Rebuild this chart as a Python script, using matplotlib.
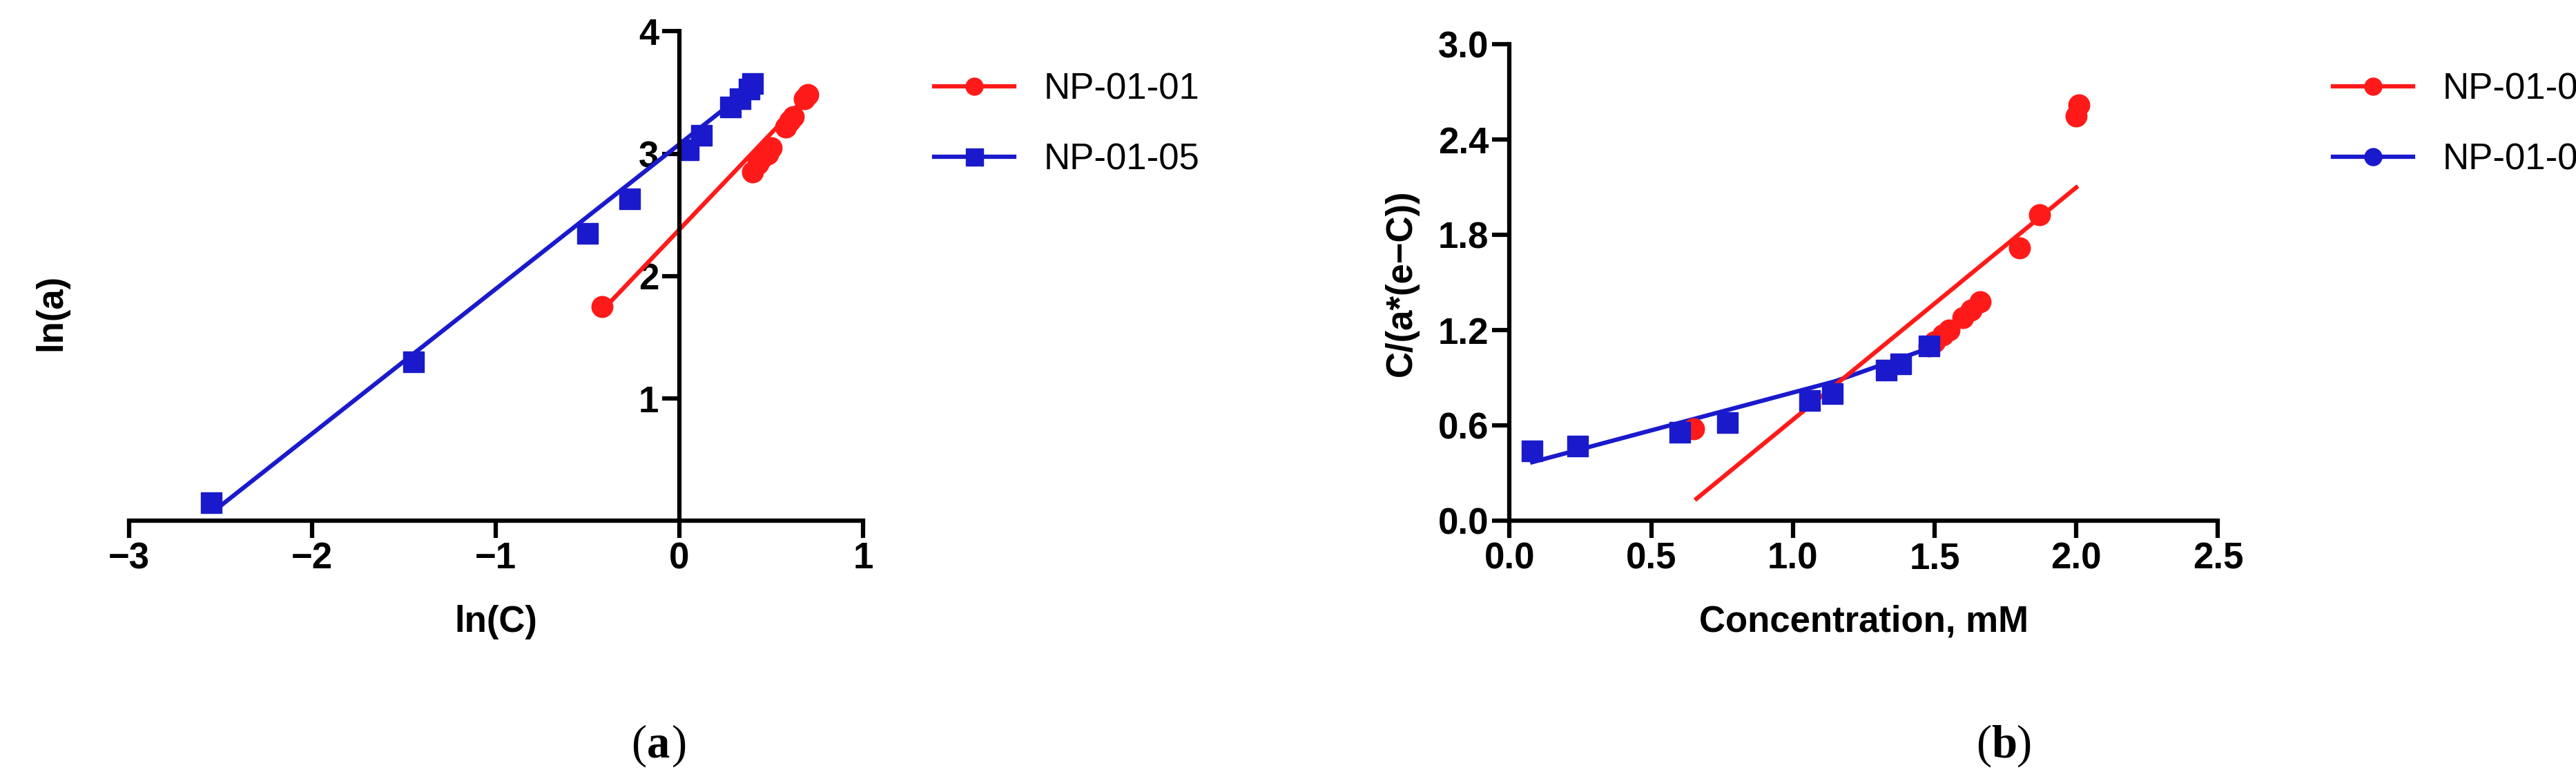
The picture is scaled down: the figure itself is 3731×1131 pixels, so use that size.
import numpy as np
import matplotlib; matplotlib.use("Agg")
import matplotlib.pyplot as plt

RED, BLUE = "#ff1a1a", "#1a1acc"
plt.rcParams["font.family"] = ["Liberation Sans", "DejaVu Sans"]

# panel (a): ln(a) vs ln(C)
a_red_x = [-0.42, 0.40, 0.43, 0.45, 0.48, 0.50, 0.58, 0.60, 0.62, 0.68, 0.70]
a_red_y = [1.75, 2.85, 2.92, 2.97, 3.00, 3.05, 3.22, 3.27, 3.30, 3.45, 3.48]
a_blue_x = [-2.55, -1.45, -0.50, -0.27, 0.05, 0.12, 0.28, 0.33, 0.38, 0.40]
a_blue_y = [0.15, 1.30, 2.35, 2.63, 3.03, 3.15, 3.38, 3.45, 3.53, 3.57]
a_red_fit_x, a_red_fit_y = [-0.42, 0.68], [1.72, 3.45]
a_blue_fit_x, a_blue_fit_y = [-2.52, 0.40], [0.10, 3.55]

# panel (b): C/(a*(e-C)) vs concentration
b_red_x = [0.65, 1.48, 1.50, 1.53, 1.55, 1.60, 1.63, 1.66, 1.80, 1.87, 2.00, 2.01]
b_red_y = [0.58, 1.10, 1.13, 1.17, 1.20, 1.28, 1.33, 1.38, 1.72, 1.93, 2.55, 2.62]
b_blue_x = [0.08, 0.24, 0.60, 0.77, 1.06, 1.14, 1.33, 1.38, 1.48]
b_blue_y = [0.44, 0.47, 0.56, 0.62, 0.76, 0.80, 0.95, 0.99, 1.10]
b_red_fit_x, b_red_fit_y = [0.66, 2.00], [0.14, 2.10]
b_blue_fit_x, b_blue_fit_y = [0.08, 1.15, 1.50], [0.37, 0.88, 1.10]

fig = plt.figure(figsize=(37.31, 11.31), dpi=100)
FS = 38
TK = dict(fontsize=FS, fontweight="bold")


def style(ax):
    ax.tick_params(width=4.5, length=18, labelsize=FS, direction="out")
    for s in ax.spines.values():
        s.set_linewidth(4.5)
    for t in ax.get_xticklabels() + ax.get_yticklabels():
        t.set_fontweight("bold")


def caption(x, letter):
    kw = dict(fontsize=48, family="Liberation Serif", va="center")
    fig.text(x, 0.045, "(", ha="right", **kw)
    fig.text(x, 0.045, letter, weight="bold", ha="left", **kw)
    fig.text(x + 0.0098, 0.045, ")", ha="left", **kw)


# ---- (a)
ax = fig.add_axes([0.050, 0.333, 0.285, 0.627])
ax.plot(a_blue_fit_x, a_blue_fit_y, color=BLUE, lw=4.5)
ax.plot(a_red_fit_x, a_red_fit_y, color=RED, lw=4.5)
ax.plot(a_red_x, a_red_y, "o", color=RED, ms=22)
ax.plot(a_blue_x, a_blue_y, "s", color=BLUE, ms=22)
ax.set_xlim(-3, 1); ax.set_ylim(0, 4)
ax.spines["left"].set_position(("data", 0))
ax.spines["bottom"].set_position(("data", 0))
ax.spines[["top", "right"]].set_visible(False)
ax.set_xticks([-3, -2, -1, 0, 1]); ax.set_yticks([1, 2, 3, 4])
ax.set_xticklabels(["\u22123", "\u22122", "\u22121", "0", "1"])
style(ax)
ax.set_xlabel("ln(C)", labelpad=30, **TK)
fig.text(0.02, 0.6, "ln(a)", rotation=90, ha="center", va="center", **TK)
lh = [plt.Line2D([], [], color=RED, lw=4.5, marker="o", ms=18),
      plt.Line2D([], [], color=BLUE, lw=4.5, marker="s", ms=18)]
fig.legend(lh, ["NP-01-01", "NP-01-05"], loc="upper left", bbox_to_anchor=(0.35, 0.95),
           frameon=False, fontsize=FS, handlelength=2.2, labelspacing=1.0)
caption(0.251, "a")

# ---- (b)
bx = fig.add_axes([0.586, 0.333, 0.275, 0.61])
bx.plot(b_blue_fit_x, b_blue_fit_y, color=BLUE, lw=4.5)
bx.plot(b_red_fit_x, b_red_fit_y, color=RED, lw=4.5)
bx.plot(b_red_x, b_red_y, "o", color=RED, ms=22)
bx.plot(b_blue_x, b_blue_y, "s", color=BLUE, ms=22)
bx.set_xlim(0, 2.5); bx.set_ylim(0, 3.0)
bx.set_xticks(np.arange(0, 2.51, 0.5)); bx.set_yticks(np.arange(0, 3.01, 0.6))
bx.xaxis.set_major_formatter(matplotlib.ticker.FormatStrFormatter("%.1f"))
bx.yaxis.set_major_formatter(matplotlib.ticker.FormatStrFormatter("%.1f"))
bx.spines[["top", "right"]].set_visible(False)
style(bx)
bx.set_xlabel("Concentration, mM", labelpad=30, **TK)
bx.set_ylabel("C/(a*(e\u2212C))", labelpad=20, **TK)
lh2 = [plt.Line2D([], [], color=RED, lw=4.5, marker="o", ms=18),
       plt.Line2D([], [], color=BLUE, lw=4.5, marker="o", ms=18)]
fig.legend(lh2, ["NP-01-01", "NP-01-05"], loc="upper left", bbox_to_anchor=(0.893, 0.95),
           frameon=False, fontsize=FS, handlelength=2.2, labelspacing=1.0)
caption(0.773, "b")

fig.savefig("out.png", dpi=100)
